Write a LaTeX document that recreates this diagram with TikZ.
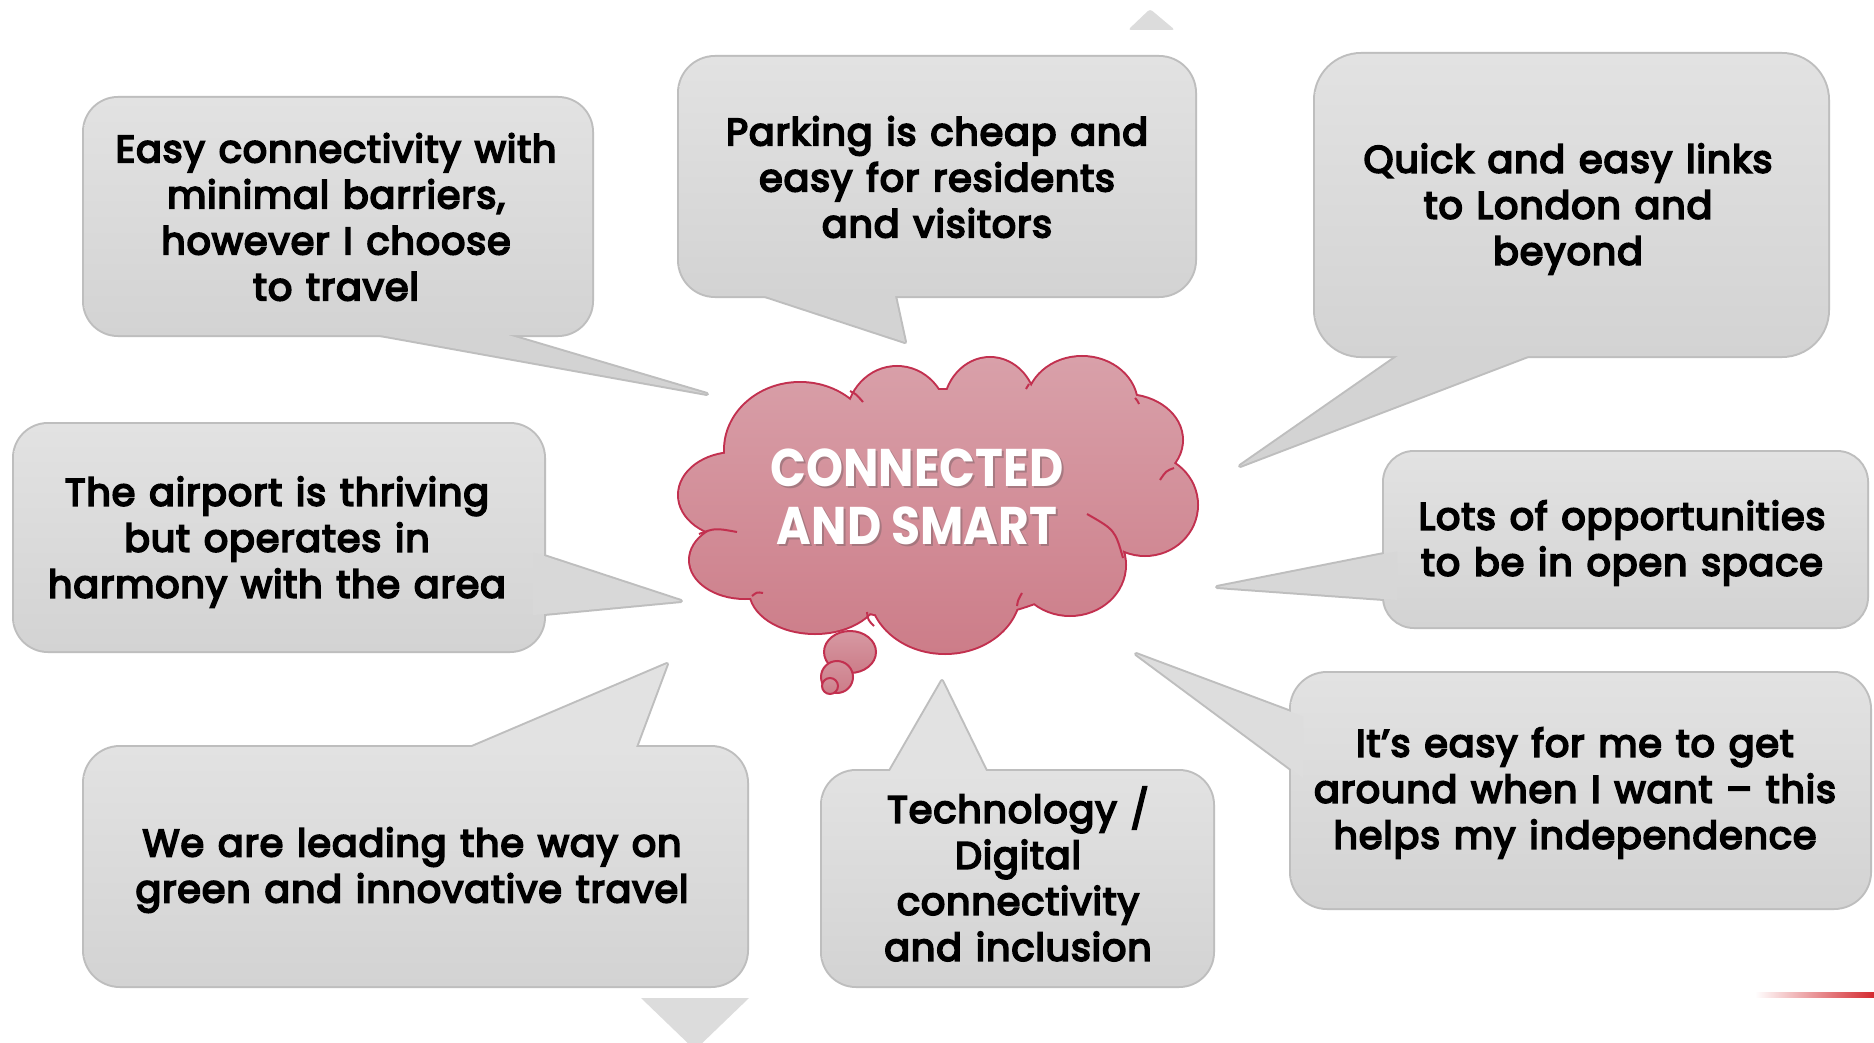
\documentclass[tikz,border=0pt]{standalone}
\usepackage{fontspec}
\setmainfont{Poppins}
\newfontfamily\boxfont{Poppins}[FakeBold=5, LetterSpace=2.5, WordSpace=1.25]
\usetikzlibrary{calc}
\definecolor{boxtop}{HTML}{E2E2E2}
\definecolor{boxbot}{HTML}{D3D3D3}
\definecolor{boxline}{HTML}{BEBEBE}
\definecolor{tailA}{HTML}{D8D8D8}
\definecolor{tailB}{HTML}{D7D7D7}
\definecolor{tailC}{HTML}{DDDDDD}
\definecolor{cloudtop}{HTML}{D9A1AA}
\definecolor{cloudbot}{HTML}{CC7C88}
\definecolor{cloudline}{HTML}{C2304F}
\definecolor{trigray}{HTML}{DCDCDC}
\definecolor{accentred}{HTML}{D42A30}
\definecolor{shadowgray}{HTML}{8A6A70}
\tikzset{
  bline/.style={draw=boxline, line width=4pt, line join=round},
  bshade/.style={top color=boxtop, bottom color=boxbot, draw=none},
  txt/.style={align=center, inner sep=0pt, text=black,
    font=\boxfont\fontsize{38}{46}\selectfont},
  cloudtxt/.style={align=center, inner sep=0pt, xscale=0.89,
    font=\bfseries\fontsize{53}{58}\selectfont},
  cedge/.style={draw=cloudline, line width=2pt},
}
% #1,#2 corners, #3 radius, #4 base point 1, #5 tip, #6 base point 2, #7 tail colour, #8 tip name
\newcommand\speechbox[8]{%
  \draw[bline, rounded corners=#3] #1 rectangle #2;
  \draw[bline] #4 -- #5 -- #6;
  \shade[bshade, rounded corners=#3] #1 rectangle #2;
  \fill[#7] ($#5!1.08!#4$) -- #5 -- ($#5!1.08!#6$) -- cycle;
  \coordinate (#8) at #5;
}
\begin{document}
\begin{tikzpicture}[x=1pt,y=-1pt]
\useasboundingbox[fill=white] (0,0) rectangle (1874,1043);

% decorative triangles and accent line
\fill[trigray, rounded corners=3] (1128,30) -- (1150,9) -- (1175,30) -- cycle;
\fill[trigray] (641,998) -- (749,998) -- (695,1050) -- cycle;
\shade[left color=white, right color=accentred] (1755,992.5) rectangle (1874,997.5);

% speech bubbles
\speechbox{(84,98)}{(592,335)}{34}{(380,335)}{(707,394)}{(508,335)}{boxbot}{tip1}
\node[txt] (n1) at (336,217) {Easy connectivity with\\minimal barriers,\\however I choose\\to travel};

\speechbox{(679,57)}{(1195,296)}{36}{(765,296)}{(905,342)}{(895,296)}{boxbot}{tip2}
\node[txt] (n2) at (937,177) {Parking is cheap and\\easy for residents\\and visitors};

\speechbox{(1315,54)}{(1828,356)}{46}{(1398,356)}{(1240,466)}{(1528,356)}{boxbot}{tip3}
\node[txt] (n3) at (1568,209) {Quick and easy links\\to London and\\beyond};

\speechbox{(14,424)}{(544,651)}{34}{(544,556)}{(681,601)}{(544,614)}{tailA}{tip4}
\node[txt] (n4) at (277,542) {The airport is thriving\\but operates in\\harmony with the area};

\speechbox{(1384,452)}{(1867,627)}{30}{(1384,554)}{(1217,587)}{(1384,599)}{tailB}{tip5}
\node[txt] (n5) at (1622,543) {Lots of opportunities\\to be in open space};

\speechbox{(84,747)}{(747,986)}{36}{(472,747)}{(667,664)}{(636,747)}{boxtop}{tip6}
\node[txt] (n6) at (412,870) {We are leading the way on\\green and innovative travel};

\speechbox{(822,771)}{(1213,986)}{34}{(890,771)}{(942,681)}{(986,771)}{boxtop}{tip7}
\node[txt] (n7) at (1018,874) {Technology /\\Digital\\connectivity\\and inclusion};

\speechbox{(1291,673)}{(1870,908)}{36}{(1291,712)}{(1136,654)}{(1291,769)}{tailC}{tip8}
\node[txt] (n8) at (1575,793) {It’s easy for me to get\\around when I want – this\\helps my independence};

% thought cloud
\draw[draw=cloudline, line width=4pt]
  (735,495) ellipse (56 and 42)
  (745,560) ellipse (55 and 38)
  (815,590) ellipse (65 and 43)
  (945,590) ellipse (75 and 63)
  (1070,565) ellipse (55 and 50)
  (1145,505) ellipse (52 and 50)
  (1125,440) ellipse (57 and 45)
  (1082,405) ellipse (55 and 48)
  (990,410) ellipse (46 and 52)
  (897,420) ellipse (50 and 53)
  (800,450) ellipse (75 and 67)
  (935,505) ellipse (190 and 115);
\begin{scope}
\clip
  (735,495) ellipse (56 and 42)
  (745,560) ellipse (55 and 38)
  (815,590) ellipse (65 and 43)
  (945,590) ellipse (75 and 63)
  (1070,565) ellipse (55 and 50)
  (1145,505) ellipse (52 and 50)
  (1125,440) ellipse (57 and 45)
  (1082,405) ellipse (55 and 48)
  (990,410) ellipse (46 and 52)
  (897,420) ellipse (50 and 53)
  (800,450) ellipse (75 and 67)
  (935,505) ellipse (190 and 115);
\shade[top color=cloudtop, bottom color=cloudbot] (670,350) rectangle (1205,660);
\end{scope}
% crevice strokes
\draw[cedge] (699,534) .. controls (715,528) .. (737,532);
\draw[cedge] (752,596) .. controls (757,592) .. (763,593);
\draw[cedge] (874,626) .. controls (868,620) .. (867,612);
\draw[cedge] (1017,606) .. controls (1018,600) .. (1022,593);
\draw[cedge] (1123,558) .. controls (1115,530) .. (1087,514);
\draw[cedge] (1174,468) .. controls (1166,471) .. (1160,480);
\draw[cedge] (850,391) .. controls (856,394) .. (863,402);
\draw[cedge] (1135,398) .. controls (1137,400) .. (1139,404);
\draw[cedge] (1029,384) .. controls (1027,386) .. (1026,389);

% thought bubbles
\shade[draw=cloudline, line width=2pt, top color=cloudtop!80!cloudbot, bottom color=cloudbot] (850,652) ellipse (26 and 21);
\shade[draw=cloudline, line width=2pt, top color=cloudtop!60!cloudbot, bottom color=cloudbot] (837,677) circle (16);
\shade[draw=cloudline, line width=2pt, top color=cloudtop!50!cloudbot, bottom color=cloudbot] (830,686) circle (8);

% cloud title
\node[cloudtxt, text=shadowgray, opacity=0.6] (centershadow) at (919,499) {CONNECTED\\AND SMART};
\node[cloudtxt, text=white] (center) at (917,497) {CONNECTED\\AND SMART};
\end{tikzpicture}
\end{document}
